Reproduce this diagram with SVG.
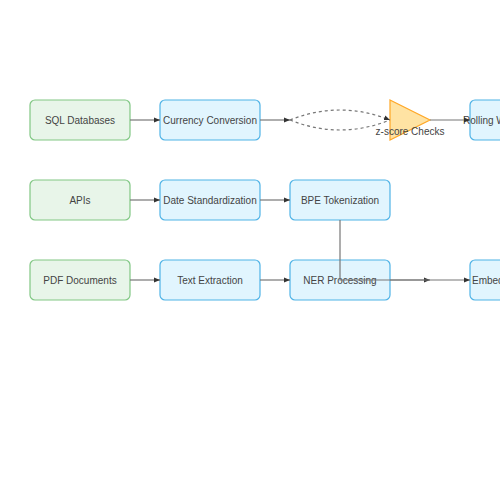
<svg xmlns="http://www.w3.org/2000/svg" width="500" height="500" viewBox="0 0 500 500">
<defs>
<style>
.src rect{fill:#e8f5e9;stroke:#81c784;stroke-width:1.2}
.proc rect{fill:#e1f5fe;stroke:#4fb3e6;stroke-width:1.2}
.chk polygon{fill:#ffe3a3;stroke:#ffa726;stroke-width:1.2}
text{font-family:"Liberation Sans",Arial,sans-serif;font-size:10px;fill:#444}
.c{text-anchor:middle;dominant-baseline:central}
.edge{fill:none;stroke:#777;stroke-width:1.2}
.dash{stroke-dasharray:3,3}
</style>
<marker id="arr" viewBox="0 0 10 10" refX="10" refY="5" markerWidth="6" markerHeight="6" orient="auto" markerUnits="userSpaceOnUse">
<path d="M0,1 L10,5 L0,9 z" fill="#333"/>
</marker>
</defs>
<rect width="500" height="500" fill="#fff"/>
<g id="sql" class="src"><rect x="30" y="100" width="100" height="40" rx="5"/><text class="c" x="80" y="120">SQL Databases</text></g>
<g id="apis" class="src"><rect x="30" y="180" width="100" height="40" rx="5"/><text class="c" x="80" y="200">APIs</text></g>
<g id="pdf" class="src"><rect x="30" y="260" width="100" height="40" rx="5"/><text class="c" x="80" y="280">PDF Documents</text></g>
<g id="currency" class="proc"><rect x="160" y="100" width="100" height="40" rx="5"/><text class="c" x="210" y="120">Currency Conversion</text></g>
<g id="date" class="proc"><rect x="160" y="180" width="100" height="40" rx="5"/><text class="c" x="210" y="200">Date Standardization</text></g>
<g id="textext" class="proc"><rect x="160" y="260" width="100" height="40" rx="5"/><text class="c" x="210" y="280">Text Extraction</text></g>
<g id="bpe" class="proc"><rect x="290" y="180" width="100" height="40" rx="5"/><text class="c" x="340" y="200">BPE Tokenization</text></g>
<g id="ner" class="proc"><rect x="290" y="260" width="100" height="40" rx="5"/><text class="c" x="340" y="280">NER Processing</text></g>
<g id="zscore" class="chk"><polygon points="390,100 430,120 390,140"/><text class="c" x="410" y="131">z-score Checks</text></g>
<g id="rolling" class="proc"><rect x="470" y="100" width="100" height="40" rx="5"/><text x="463" y="120" dominant-baseline="central">Rolling Window Average</text></g>
<g id="embed" class="proc"><rect x="470" y="260" width="100" height="40" rx="5"/><text x="472" y="280" dominant-baseline="central">Embedding Generation</text></g>
<g id="connectors">
<path class="edge" d="M130,120 H160" marker-end="url(#arr)"/>
<path class="edge" d="M130,200 H160" marker-end="url(#arr)"/>
<path class="edge" d="M130,280 H160" marker-end="url(#arr)"/>
<path class="edge" d="M260,120 H290" marker-end="url(#arr)"/>
<path class="edge dash" d="M290,120 Q340,100 390,120" marker-end="url(#arr)"/>
<path class="edge dash" d="M290,120 Q340,140 390,120"/>
<path class="edge" d="M430,120 H470" marker-end="url(#arr)"/>
<path class="edge" d="M260,200 H290" marker-end="url(#arr)"/>
<path class="edge" d="M260,280 H290" marker-end="url(#arr)"/>
<path class="edge" d="M390,280 H430" marker-end="url(#arr)"/>
<path class="edge" d="M340,220 V280 H470" marker-end="url(#arr)"/>
</g>
</svg>
